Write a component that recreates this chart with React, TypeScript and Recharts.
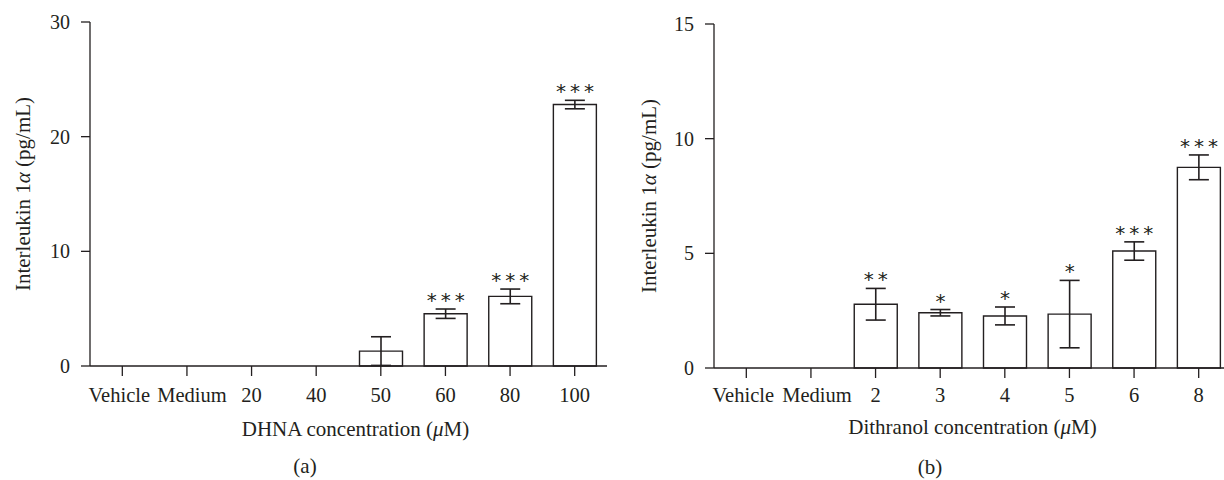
import React from 'react';
import { BarChart, Bar, XAxis, YAxis, ErrorBar, LabelList } from 'recharts';

// ---- Panel (a): DHNA ----
const dhnaCategories = ['Vehicle', 'Medium', '20', '40', '50', '60', '80', '100'];
const dhnaValues = [0, 0, 0, 0, 1.3, 4.56, 6.07, 22.8];
const dhnaErrors: (number | null)[] = [null, null, null, null, 1.25, 0.41, 0.64, 0.37];
const dhnaStars = ['', '', '', '', '', '***', '***', '***'];
const dhnaTicks = [0, 10, 20, 30];

// ---- Panel (b): Dithranol ----
const dithCategories = ['Vehicle', 'Medium', '2', '3', '4', '5', '6', '8'];
const dithValues = [0, 0, 2.78, 2.41, 2.27, 2.35, 5.1, 8.75];
const dithErrors: (number | null)[] = [null, null, 0.69, 0.14, 0.39, 1.47, 0.4, 0.54];
const dithStars = ['', '', '**', '*', '*', '*', '***', '***'];
const dithTicks = [0, 5, 10, 15];

const INK = '#231f20';
const SERIF = '"Liberation Serif", "Times New Roman", serif';

type PanelProps = {
  categories: string[];
  values: number[];
  errors: (number | null)[];
  stars: string[];
  ticks: number[];
  xTitle: React.ReactNode;
  panelLabel: string;
  width: number;
  yAxisWidth: number;
  marginTop: number;
  marginBottom: number;
  marginRight: number;
  tickBaseline: number;
  titleBaseline: number;
  titleShift: number;
  panelBaseline: number;
  panelLabelX: number;
  yTitleOffset: number;
  wordNudge: [number, number];
};

function Panel(p: PanelProps) {
  const data = p.categories.map((name, i) => ({
    idx: i,
    name,
    v: p.values[i],
    err: p.errors[i] == null ? undefined : p.errors[i],
  }));

  const XTick = (props: any) => {
    const { x, y, payload } = props;
    const i = p.categories.indexOf(payload.value);
    const nudge = i === 0 ? p.wordNudge[0] : i === 1 ? p.wordNudge[1] : 0;
    return (
      <text x={x + nudge} y={y + p.tickBaseline} textAnchor="middle" fontFamily={SERIF} fontSize={20.5} fill={INK}>
        {payload.value}
      </text>
    );
  };

  const xLabel = (lp: any) => {
    const vb = lp.viewBox || {};
    const cx = vb.x + vb.width / 2 + p.titleShift;
    return (
      <g>
        <text x={cx} y={vb.y + p.titleBaseline} textAnchor="middle" fontFamily={SERIF} fontSize={21} fill={INK}>
          {p.xTitle}
        </text>
        <text x={p.panelLabelX} y={vb.y + p.panelBaseline} textAnchor="middle" fontFamily={SERIF} fontSize={21} fill={INK}>
          {p.panelLabel}
        </text>
      </g>
    );
  };

  const yLabel = (lp: any) => {
    const vb = lp.viewBox || {};
    const cx = vb.x + vb.width - p.yTitleOffset;
    const cy = vb.y + vb.height / 2;
    return (
      <text
        x={cx}
        y={cy}
        transform={`rotate(-90, ${cx}, ${cy})`}
        textAnchor="middle"
        dominantBaseline="central"
        fontFamily={SERIF}
        fontSize={21}
        fill={INK}
      >
        Interleukin 1<tspan fontStyle="italic">α</tspan> (pg/mL)
      </text>
    );
  };

  const starContent = (lp: any) => {
    const { x, y, width, height, value } = lp;
    const index = Number(value);
    const s = p.stars[index];
    if (!s) return null;
    const v = p.values[index];
    const e = p.errors[index] ?? 0;
    const top = y - e * (height / v);
    return (
      <text
        x={x + width / 2 + 2}
        y={top - 2}
        textAnchor="middle"
        fontFamily='"DejaVu Sans", sans-serif'
        fontSize={20}
        letterSpacing={4}
        fill={INK}
      >
        {s}
      </text>
    );
  };

  return (
    <BarChart
      width={p.width}
      height={480}
      data={data}
      margin={{ top: p.marginTop, right: p.marginRight, bottom: p.marginBottom, left: 0 }}
      barCategoryGap={0}
    >
      <XAxis
        dataKey="name"
        interval={0}
        height={60}
        tickSize={10}
        tickMargin={0}
        axisLine={{ stroke: INK, strokeWidth: 1.3 }}
        tickLine={{ stroke: INK, strokeWidth: 1.3 }}
        tick={XTick}
        label={xLabel}
      />
      <YAxis
        type="number"
        domain={[0, p.ticks[p.ticks.length - 1]]}
        ticks={p.ticks}
        width={p.yAxisWidth}
        tickSize={9}
        tickMargin={11}
        axisLine={{ stroke: INK, strokeWidth: 1.3 }}
        tickLine={{ stroke: INK, strokeWidth: 1.3 }}
        tick={{ fontFamily: SERIF, fontSize: 20, fill: INK }}
        label={yLabel}
      />
      <Bar dataKey="v" fill="#ffffff" stroke={INK} strokeWidth={1.4} barSize={43} isAnimationActive={false}>
        <ErrorBar dataKey="err" direction="y" width={10} stroke={INK} strokeWidth={1.6} />
        <LabelList dataKey="idx" content={starContent} />
      </Bar>
    </BarChart>
  );
}

export default function App() {
  return (
    <div
      style={{
        position: 'absolute',
        left: 0,
        top: 0,
        width: 1224,
        height: 480,
        overflow: 'hidden',
        background: '#ffffff',
      }}
    >
      <div style={{ position: 'absolute', left: 0, top: 0 }}>
        <Panel
          categories={dhnaCategories}
          values={dhnaValues}
          errors={dhnaErrors}
          stars={dhnaStars}
          ticks={dhnaTicks}
          xTitle={<>DHNA concentration (<tspan fontStyle="italic">μ</tspan>M)</>}
          panelLabel="(a)"
          width={612}
          yAxisWidth={90}
          marginTop={22}
          marginBottom={54}
          marginRight={5}
          tickBaseline={26}
          titleBaseline={70}
          titleShift={7}
          panelBaseline={107}
          panelLabelX={305}
          yTitleOffset={67}
          wordNudge={[-3, 5]}
        />
      </div>
      <div style={{ position: 'absolute', left: 612, top: 0 }}>
        <Panel
          categories={dithCategories}
          values={dithValues}
          errors={dithErrors}
          stars={dithStars}
          ticks={dithTicks}
          xTitle={<>Dithranol concentration (<tspan fontStyle="italic">μ</tspan>M)</>}
          panelLabel="(b)"
          width={625}
          yAxisWidth={102}
          marginTop={24}
          marginBottom={52}
          marginRight={6}
          tickBaseline={24}
          titleBaseline={66}
          titleShift={0}
          panelBaseline={106}
          panelLabelX={318}
          yTitleOffset={65}
          wordNudge={[-3, 6]}
        />
      </div>
    </div>
  );
}
